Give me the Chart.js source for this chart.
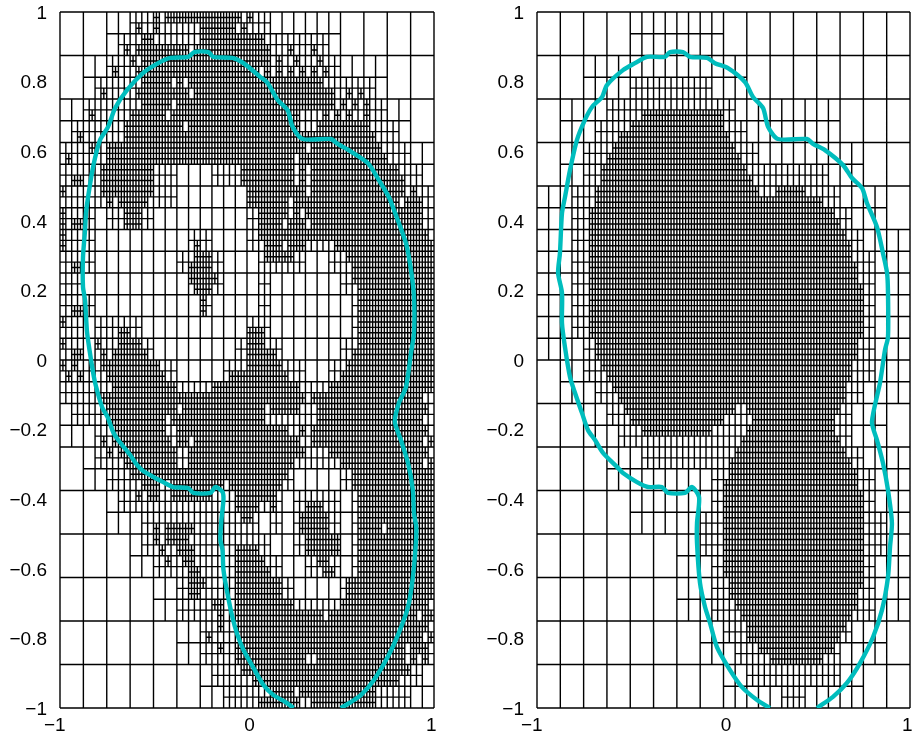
<!DOCTYPE html>
<html><head><meta charset="utf-8">
<style>html,body{margin:0;padding:0;background:#fff;overflow:hidden}
canvas{position:absolute;top:0}</style>
<script src="https://cdn.jsdelivr.net/npm/chart.js@4"></script>
</head><body>
<canvas id="left" width="456" height="734" style="left:0"></canvas>
<canvas id="right" width="456" height="734" style="left:456px"></canvas>
<script>
const xTicks=[-1,0,1];
const xTickLabels=['−1\u00a0\u00a0','\u00a00','1\u00a0'];
const yTicks=[-1,-0.8,-0.6,-0.4,-0.2,0,0.2,0.4,0.6,0.8,1];
const yTickLabels=['−1','−0.8','−0.6','−0.4','−0.2','0','0.2','0.4','0.6','0.8','1'];

// Mesh refinement. Rows run from the top, spans are [first,end) columns.
const leftSplit16=[[[2,12]],[[1,14]],[[0,15]],[[0,16]],[[0,16]],[[0,16]],[[0,16]],[[0,16]],
[[0,16]],[[0,16]],[[1,16]],[[2,16]],[[3,16]],[[4,16]],[[5,16]],[[6,16]]];
const leftSplit32=[
[[6,18]],[[5,23]],[[4,24]],[[3,27]],[[2,28]],[[1,29]],[[0,30]],[[0,10],[13,31]],
[[0,10],[16,32]],[[0,3],[4,8],[16,32]],[[0,3],[11,13],[16,32]],[[0,3],[10,14],[17,21],[23,32]],
[[0,2],[11,14],[17,18],[24,32]],[[0,3],[12,13],[17,18],[25,32]],[[0,2],[3,7],[16,18],[25,32]],[[0,2],[3,8],[15,19],[24,32]],
[[0,10],[14,21],[23,32]],[[0,32]],[[1,32]],[[3,32]],[[3,32]],[[4,20],[24,32]],[[5,19],[20,24],[25,32]],[[7,17],[18,19],[20,24],[25,32]],
[[7,18],[20,24],[25,32]],[[8,19],[21,24],[25,32]],[[10,20],[24,32]],[[10,32]],[[12,32]],[[12,32]],[[13,31]],[[14,30]]];
const leftSplit64=[
[[16,17],[18,31],[32,33]],
[[13,14],[16,17],[24,30],[31,32]],
[[14,16],[24,35]],
[[11,12],[13,22],[23,36],[39,40],[43,44]],
[[12,13],[14,36],[37,38],[40,41],[44,45]],
[[9,10],[13,34],[35,36],[37,38],[39,40],[41,42],[43,44],[45,46]],
[[14,19],[20,21],[22,45]],
[[7,8],[13,22],[23,47],[49,50],[51,52]],
[[14,19],[20,47],[48,49],[50,51],[52,53]],
[[5,6],[12,18],[19,41],[45,46],[47,48],[49,50],[52,53]],
[[11,21],[22,41],[44,53]],
[[3,4],[11,54]],
[[5,6],[8,42],[43,55]],
[[1,2],[8,40],[41,56]],
[[7,16],[31,40],[41,42],[43,58]],
[[2,4],[7,16],[31,40],[41,42],[43,59]],
[[0,1],[7,16],[32,42],[43,59],[60,61]],
[[8,9],[10,15],[32,39],[40,58],[59,62]],
[[0,1],[11,14],[34,39],[40,41],[42,62]],
[[0,1],[2,4],[11,14],[34,38],[39,42],[43,62]],
[[0,1],[34,63]],
[[0,1],[23,24],[35,38],[39,42],[47,64]],
[[23,26],[35,40],[49,64]],
[[2,4],[22,26],[50,64]],
[[22,27],[50,64]],
[[23,26],[51,64]],
[[24,25],[51,64]],
[[2,4],[24,25],[51,64]],
[[0,1],[51,64]],
[[10,12],[32,35],[51,64]],
[[0,1],[6,7],[10,14],[32,35],[51,64]],
[[2,4],[7,8],[9,15],[32,37],[50,64]],
[[0,1],[2,3],[7,17],[32,38],[49,64]],
[[1,2],[3,4],[8,18],[29,39],[48,64]],
[[9,20],[26,41],[46,64]],
[[7,42],[43,62]],
[[8,20],[21,35],[36,41],[44,63]],
[[8,18],[19,35],[44,62]],
[[9,18],[20,39],[41,42],[43,63]],
[[7,8],[9,19],[20,22],[23,41],[43,62],[63,64]],
[[8,9],[10,20],[22,42],[46,63]],
[[11,20],[22,40],[48,62],[63,64]],
[[12,39],[50,64]],
[[14,17],[19,28],[29,38],[50,64]],
[[13,14],[15,17],[19,26],[30,37],[51,64]],
[[30,34],[36,37],[42,45],[51,64]],
[[31,33],[41,46],[51,64]],
[[16,17],[18,23],[41,46],[51,55],[56,64]],
[[16,17],[18,22],[42,48],[51,64]],
[[17,18],[20,23],[30,34],[42,48],[51,64]],
[[18,19],[21,23],[30,35],[44,46],[51,64]],
[[22,24],[30,36],[45,47],[51,64]],
[[22,25],[30,38],[49,64]],
[[22,24],[30,38],[49,64]],
[[26,28],[30,40],[48,63]],
[[27,28],[30,45],[46,61],[62,64]],
[[27,28],[30,63]],
[[25,26],[31,62],[63,64]],
[[27,28],[30,59],[60,63]],
[[30,42],[44,59],[60,61],[62,63]],
[[31,60]],
[[33,58]],
[[36,40],[41,54]],
[[34,41],[43,54]]];

const rightSplit16=[[[4,8]],[[2,9]],[[1,13]],[[1,14]],[[0,15]],[[0,16]],[[0,16]],[[0,16]],
[[1,16]],[[2,15]],[[3,16]],[[4,16]],[[6,16]],[[6,16]],[[7,15]],[[8,14]]];
const rightSplit32=[[],[],[],[[8,15]],[[6,17]],[[5,18]],[[4,19]],[[4,25]],
[[3,26]],[[3,27]],[[3,28]],[[3,29]],[[3,29]],[[3,29]],[[3,29]],[[4,29]],
[[4,29]],[[5,28]],[[6,27]],[[7,27]],[[9,28]],[[15,29]],[[15,29]],[[14,30]],
[[14,30]],[[15,29]],[[15,29]],[[15,29]],[[16,27]],[[17,26]],[[18,26]],[[21,23]]];
const rightSplit64=[[],[],[],[],[],[],[],[],[],
[[18,32]],[[16,32]],[[14,33]],[[13,34]],[[12,35]],[[11,36]],[[11,37]],
[[10,38],[41,46]],[[10,49]],[[9,51]],[[9,52]],[[9,53]],[[9,54]],[[9,54]],[[9,55]],
[[9,55]],[[9,56]],[[9,56]],[[9,56]],[[9,56]],[[9,56]],[[10,55]],[[10,55]],
[[11,54]],[[12,54]],[[13,53]],[[14,53]],[[15,34],[36,52]],[[16,32],[37,51]],[[18,30],[36,51]],[[35,52]],
[[34,53]],[[33,54]],[[33,55]],[[32,55]],[[32,56]],[[32,56]],[[32,56]],[[32,56]],
[[32,56]],[[32,56]],[[32,56]],[[32,56]],[[33,56]],[[33,55]],[[34,55]],[[35,54]],
[[36,53]],[[36,52]],[[38,51]],[[40,49]],[],[],[],[]];

const leftCurveX=[0.249,0.206,0.142,0.088,0.035,-0.019,-0.051,-0.078,-0.105,-0.126,-0.131,-0.142,-0.137,-0.126,-0.131,-0.169,-0.196,-0.287,-0.314,-0.394,-0.448,-0.491,-0.555,-0.587,-0.625,-0.689,-0.716,-0.743,-0.775,-0.812,-0.828,-0.855,-0.866,-0.877,-0.877,-0.866,-0.861,-0.85,-0.823,-0.786,-0.743,-0.705,-0.641,-0.555,-0.475,-0.41,-0.314,-0.282,-0.206,-0.18,-0.078,-0.019,0.072,0.11,0.164,0.217,0.244,0.298,0.448,0.485,0.544,0.646,0.705,0.759,0.786,0.85,0.877,0.893,0.893,0.877,0.85,0.812,0.791,0.823,0.861,0.887,0.893,0.905,0.903,0.887,0.861,0.812,0.753,0.678,0.609,0.555,0.501];
const leftCurveY=[-1,-0.983,-0.963,-0.934,-0.885,-0.833,-0.79,-0.739,-0.67,-0.603,-0.546,-0.517,-0.46,-0.402,-0.379,-0.365,-0.382,-0.382,-0.368,-0.365,-0.351,-0.339,-0.319,-0.302,-0.273,-0.23,-0.207,-0.167,-0.135,-0.066,-0.02,0.078,0.172,0.21,0.296,0.374,0.422,0.468,0.555,0.632,0.67,0.724,0.776,0.825,0.853,0.868,0.871,0.885,0.885,0.871,0.868,0.853,0.813,0.796,0.747,0.718,0.67,0.635,0.635,0.621,0.603,0.566,0.517,0.468,0.431,0.336,0.259,0.181,0.078,0.02,-0.078,-0.124,-0.178,-0.23,-0.296,-0.374,-0.44,-0.48,-0.526,-0.624,-0.71,-0.784,-0.853,-0.92,-0.963,-0.983,-1];
const rightCurveX=[0.249,0.18,0.099,0.035,-0.035,-0.072,-0.099,-0.126,-0.142,-0.142,-0.131,-0.169,-0.206,-0.298,-0.33,-0.405,-0.464,-0.539,-0.566,-0.646,-0.689,-0.727,-0.759,-0.796,-0.823,-0.85,-0.866,-0.866,-0.887,-0.877,-0.866,-0.85,-0.823,-0.786,-0.743,-0.705,-0.651,-0.625,-0.539,-0.475,-0.41,-0.314,-0.287,-0.217,-0.18,-0.088,-0.046,0.024,0.115,0.158,0.212,0.239,0.292,0.448,0.48,0.544,0.641,0.689,0.743,0.769,0.823,0.855,0.877,0.882,0.882,0.866,0.839,0.796,0.823,0.855,0.882,0.903,0.893,0.882,0.85,0.802,0.732,0.662,0.587,0.501];
const rightCurveY=[-1,-0.977,-0.94,-0.891,-0.825,-0.756,-0.71,-0.641,-0.526,-0.468,-0.394,-0.365,-0.382,-0.382,-0.365,-0.365,-0.351,-0.325,-0.31,-0.267,-0.23,-0.201,-0.152,-0.095,-0.049,0.037,0.106,0.193,0.25,0.307,0.422,0.468,0.546,0.632,0.69,0.727,0.756,0.79,0.833,0.853,0.871,0.871,0.885,0.885,0.871,0.868,0.853,0.839,0.799,0.756,0.724,0.67,0.635,0.635,0.621,0.603,0.56,0.523,0.494,0.451,0.382,0.307,0.25,0.193,0.066,0.029,-0.066,-0.178,-0.23,-0.296,-0.374,-0.468,-0.537,-0.624,-0.718,-0.796,-0.871,-0.928,-0.968,-1];

const FINEST=128;
function marks(rows,n){
  const m=Array.from({length:n},()=>new Uint8Array(n));
  rows.forEach((spans,r)=>spans.forEach(([a,b])=>{for(let c=a;c<b;c++)m[r][c]=1;}));
  return m;
}
function meshPoints(s16,s32,s64){
  const levels={16:marks(s16,16),32:marks(s32,32),64:marks(s64,64)};
  // a cell divides when it is marked or when any finer cell inside it is marked
  for(let r=0;r<64;r++)for(let c=0;c<64;c++)if(levels[64][r][c])levels[32][r>>1][c>>1]=1;
  for(let r=0;r<32;r++)for(let c=0;c<32;c++)if(levels[32][r][c])levels[16][r>>1][c>>1]=1;
  const H=Array.from({length:FINEST+1},()=>new Uint8Array(FINEST));
  const V=Array.from({length:FINEST+1},()=>new Uint8Array(FINEST));
  function cell(n,r,c){
    const s=FINEST/n,x0=c*s,y0=r*s;
    if(n<FINEST&&levels[n]&&levels[n][r][c]){
      cell(n*2,r*2,c*2);cell(n*2,r*2,c*2+1);cell(n*2,r*2+1,c*2);cell(n*2,r*2+1,c*2+1);return;
    }
    for(let i=0;i<s;i++){H[y0][x0+i]=1;H[y0+s][x0+i]=1;V[x0][y0+i]=1;V[x0+s][y0+i]=1;}
  }
  for(let r=0;r<16;r++)for(let c=0;c<16;c++)cell(16,r,c);
  const dx=u=>-1+2*u/FINEST, dy=u=>1-2*u/FINEST, pts=[];
  for(let k=0;k<=FINEST;k++){
    let i=0;
    while(i<FINEST){ if(!H[k][i]){i++;continue;} let j=i; while(j<FINEST&&H[k][j])j++;
      pts.push({x:dx(i),y:dy(k)},{x:dx(j),y:dy(k)},{x:null,y:null}); i=j; }
    i=0;
    while(i<FINEST){ if(!V[k][i]){i++;continue;} let j=i; while(j<FINEST&&V[k][j])j++;
      pts.push({x:dx(k),y:dy(i)},{x:dx(k),y:dy(j)},{x:null,y:null}); i=j; }
  }
  return pts;
}
function panel(id,mesh,cx,cy,padRight,yWidth){
  const curve=cx.map((x,i)=>({x,y:cy[i]}));
  new Chart(document.getElementById(id),{
    type:'scatter',
    data:{datasets:[
      {label:'contour',data:curve,showLine:true,borderColor:'#00BDBD',borderWidth:4.4,pointRadius:0,tension:0.25,order:1,clip:0,borderJoinStyle:'round'},
      {label:'mesh',data:mesh,showLine:true,borderColor:'#000',borderWidth:1.4,pointRadius:0,tension:0,spanGaps:false,order:2,clip:2}
    ]},
    options:{
      responsive:false,animation:false,events:[],
      layout:{padding:{left:0,right:padRight,top:12,bottom:0}},
      plugins:{legend:{display:false},tooltip:{enabled:false}},
      scales:{
        x:{type:'linear',min:-1,max:1,border:{display:false},grid:{display:false,drawTicks:false},
          afterBuildTicks:s=>{s.ticks=xTicks.map(v=>({value:v}));},
          afterFit:s=>{s.height=26;s.paddingLeft=0;s.paddingRight=0;},
          ticks:{autoSkip:false,maxRotation:0,padding:6,color:'#000',font:{family:'"Liberation Sans"',size:19},
            callback:v=>xTickLabels[xTicks.indexOf(v)]}},
        y:{type:'linear',min:-1,max:1,border:{display:false},grid:{display:false,drawTicks:false},
          afterBuildTicks:s=>{s.ticks=yTicks.map(v=>({value:v}));},
          afterFit:s=>{s.width=yWidth;s.paddingTop=0;s.paddingBottom=0;},
          ticks:{autoSkip:false,padding:13,labelOffset:1.5,color:'#000',font:{family:'"Liberation Sans"',size:19},
            callback:v=>yTickLabels[yTicks.indexOf(v)]}}
      }
    }
  });
}
panel('left',meshPoints(leftSplit16,leftSplit32,leftSplit64),leftCurveX,leftCurveY,22,60);
panel('right',meshPoints(rightSplit16,rightSplit32,rightSplit64),rightCurveX,rightCurveY,2,81);
</script>
</body></html>
